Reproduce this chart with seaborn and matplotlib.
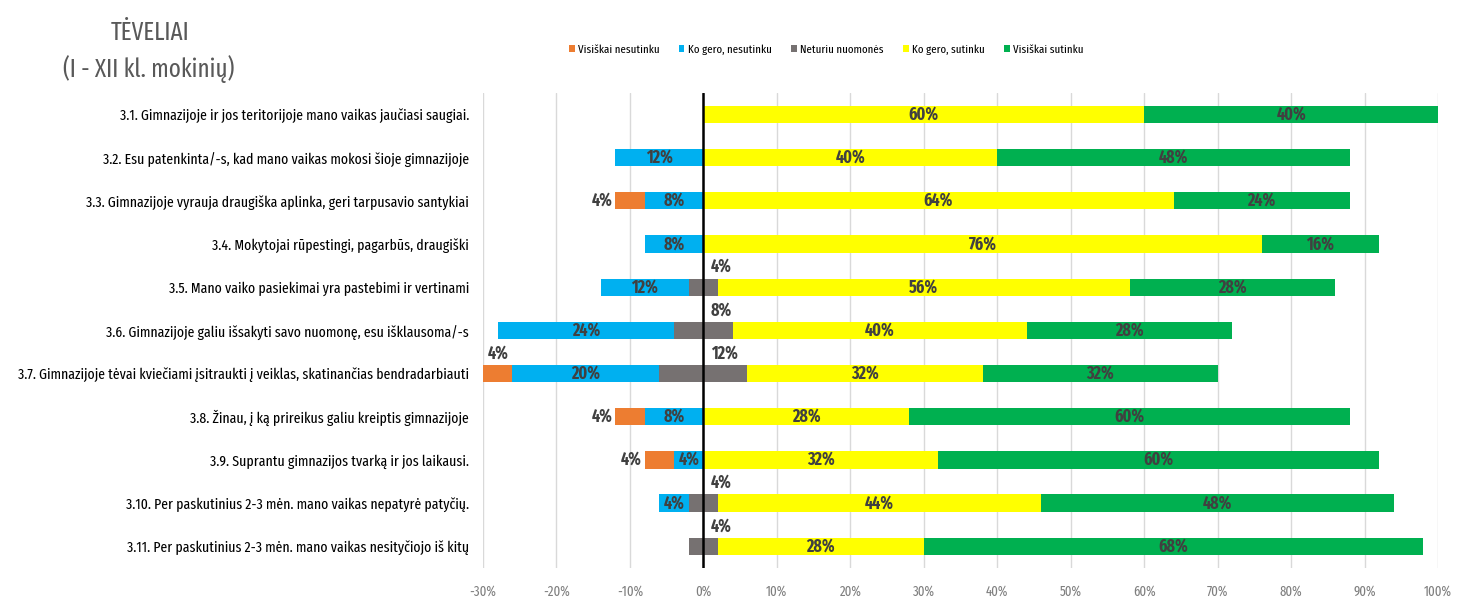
import numpy as np
import pandas as pd
import seaborn as sns
import matplotlib.pyplot as plt
from matplotlib.patches import Patch
from matplotlib.ticker import FuncFormatter

questions = [
    "3.1. Gimnazijoje ir jos teritorijoje mano vaikas jaučiasi saugiai.",
    "3.2. Esu patenkinta/-s, kad mano vaikas mokosi šioje gimnazijoje",
    "3.3. Gimnazijoje vyrauja draugiška aplinka, geri tarpusavio santykiai",
    "3.4. Mokytojai rūpestingi, pagarbūs, draugiški",
    "3.5. Mano vaiko pasiekimai yra pastebimi ir vertinami",
    "3.6. Gimnazijoje galiu išsakyti savo nuomonę, esu išklausoma/-s",
    "3.7. Gimnazijoje tėvai kviečiami įsitraukti į veiklas, skatinančias bendradarbiauti",
    "3.8. Žinau, į ką prireikus galiu kreiptis gimnazijoje",
    "3.9. Suprantu gimnazijos tvarką ir jos laikausi.",
    "3.10. Per paskutinius 2-3 mėn. mano vaikas nepatyrė patyčių.",
    "3.11. Per paskutinius 2-3 mėn. mano vaikas nesityčiojo iš kitų",
]
categories = ["Visiškai nesutinku", "Ko gero, nesutinku", "Neturiu nuomonės",
              "Ko gero, sutinku", "Visiškai sutinku"]
strongly_disagree = [0, 0, 4, 0, 0, 0, 4, 4, 4, 0, 0]
disagree = [0, 12, 8, 8, 12, 24, 20, 8, 4, 4, 0]
neutral = [0, 0, 0, 0, 4, 8, 12, 0, 0, 4, 4]
agree = [60, 40, 64, 76, 56, 40, 32, 28, 32, 44, 28]
strongly_agree = [40, 48, 24, 16, 28, 28, 32, 60, 60, 48, 68]

colors = ["#ED7D31", "#00B0F0", "#767171", "#FFFF00", "#00B050"]
label_color = "#404040"

sns.set_style("white")
plt.rcParams["font.family"] = ["Fira Sans Extra Condensed", "DejaVu Sans"]

df = pd.DataFrame({
    "q": questions,
    "sd": strongly_disagree, "d": disagree, "n": neutral,
    "a": agree, "sa": strongly_agree,
})
half = df["n"] / 2
# cumulative ends, drawn largest first so shorter bars sit on top
pos_sa = half + df["a"] + df["sa"]
pos_a = half + df["a"]
neg_sd = -(half + df["d"] + df["sd"])
neg_d = -(half + df["d"])

fig = plt.figure(figsize=(14.57, 5.99), dpi=100)
ax = fig.add_axes([0.3315, 0.052, 0.6555, 0.793])

bw = 0.4
kw = dict(y="q", orient="h", width=bw, saturation=1, linewidth=0, ax=ax)
sns.barplot(data=df.assign(v=pos_sa), x="v", color=colors[4], **kw)
sns.barplot(data=df.assign(v=pos_a), x="v", color=colors[3], **kw)
sns.barplot(data=df.assign(v=half), x="v", color=colors[2], **kw)
sns.barplot(data=df.assign(v=neg_sd), x="v", color=colors[0], **kw)
sns.barplot(data=df.assign(v=neg_d), x="v", color=colors[1], **kw)
sns.barplot(data=df.assign(v=-half), x="v", color=colors[2], **kw)

lab = dict(color=label_color, fontsize=12.5, fontweight="bold", va="center")
for i in range(len(questions)):
    h = half[i]
    if agree[i]:
        ax.text(h + agree[i] / 2, i, f"{agree[i]}%", ha="center", **lab)
    if strongly_agree[i]:
        ax.text(h + agree[i] + strongly_agree[i] / 2, i, f"{strongly_agree[i]}%", ha="center", **lab)
    if disagree[i]:
        ax.text(-h - disagree[i] / 2, i, f"{disagree[i]}%", ha="center", **lab)
    if neutral[i]:
        ax.text(1.0, i - 0.47, f"{neutral[i]}%", ha="left", **lab)
    if strongly_disagree[i]:
        left = -h - disagree[i] - strongly_disagree[i]
        if left <= -28:
            ax.text(left + strongly_disagree[i] / 2, i - 0.47, f"{strongly_disagree[i]}%", ha="center", **lab)
        else:
            ax.text(left - 0.4, i, f"{strongly_disagree[i]}%", ha="right", **lab)

ax.set_xlim(-30, 100)
ax.set_ylim(len(questions) - 0.5, -0.5)
ax.set_xticks(np.arange(-30, 101, 10))
ax.xaxis.set_major_formatter(FuncFormatter(lambda v, p: f"{int(v)}%"))
ax.grid(axis="x", color="#D9D9D9", linewidth=1)
ax.set_axisbelow(True)
ax.axvline(0, color="black", linewidth=1.8, zorder=5)
for s in ax.spines.values():
    s.set_visible(False)
ax.tick_params(axis="x", length=0, labelsize=10, labelcolor="#7F7F7F", pad=12)
ax.tick_params(axis="y", length=0, labelsize=10.8, labelcolor="black", pad=10)
ax.set_xlabel("")
ax.set_ylabel("")

handles = [Patch(facecolor=c, edgecolor="none") for c in colors]
fig.legend(handles, categories, loc="center", bbox_to_anchor=(0.567, 0.917),
           ncol=5, frameon=False, fontsize=8.5, handlelength=0.5, handleheight=0.6,
           handletextpad=0.3, columnspacing=1.6, labelcolor="black")

fig.text(0.103, 0.945, "TĖVELIAI", ha="center", va="center", fontsize=18, color="#595959")
fig.text(0.102, 0.885, "(I - XII kl. mokinių)", ha="center", va="center", fontsize=18, color="#595959")

fig.savefig("out.png", dpi=100)
